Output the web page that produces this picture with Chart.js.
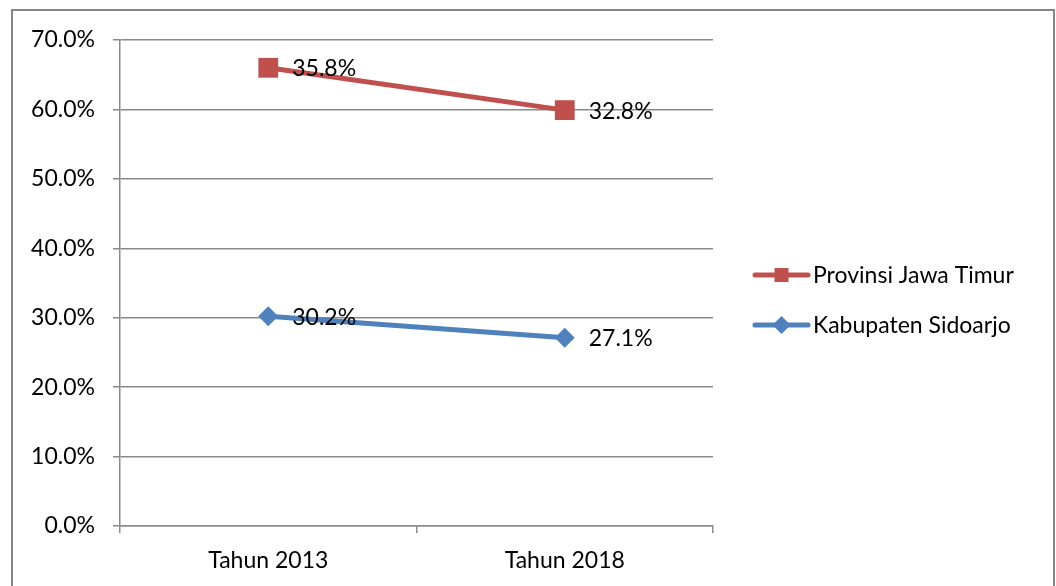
<!DOCTYPE html>
<html>
<head>
<meta charset="utf-8">
<script src="https://cdn.jsdelivr.net/npm/chart.js@4.4.1/dist/chart.umd.min.js"></script>
<style>
  html, body { margin: 0; padding: 0; background: #fff; }
  #wrap { position: relative; width: 1056px; height: 586px; overflow: hidden; }
  #frame { position: absolute; left: 11px; top: 9px; width: 1040px; height: 600px; border: 2px solid #878787; }
  canvas { position: absolute; left: 0; top: 0; }
</style>
</head>
<body>
<div id="wrap">
  <div id="frame"></div>
  <canvas id="trendChart" width="1056" height="586"></canvas>
</div>
<script>
// Data (stacked line: red series sits on top of the blue one)
const categories = ['Tahun 2013', 'Tahun 2018'];
const sidoarjoValues = [30.2, 27.1];
const jatimValues = [35.8, 32.8];
const yMin = 0;
const yMax = 70;
const yStep = 10;

const RED = '#C0504D';
const BLUE = '#4F81BD';
const GRID = '#8a8a8a';
const FONT = 'Lato, "Open Sans", sans-serif';
const FONT_SIZE = 23;

// Value labels to the right of each point
const valueLabels = {
  id: 'valueLabels',
  afterDatasetsDraw(chart) {
    const ctx = chart.ctx;
    ctx.save();
    ctx.font = FONT_SIZE + 'px ' + FONT;
    ctx.fillStyle = '#000';
    ctx.textAlign = 'left';
    ctx.textBaseline = 'middle';
    chart.data.datasets.forEach((ds, i) => {
      chart.getDatasetMeta(i).data.forEach((pt, j) => {
        ctx.fillText(ds.data[j].toFixed(1) + '%', pt.x + 24, pt.y + 1);
      });
    });
    ctx.restore();
  }
};

// Legend on the right: line sample with marker, like the office chart
const sideLegend = {
  id: 'sideLegend',
  afterDraw(chart) {
    const ctx = chart.ctx;
    const items = chart.data.datasets.slice().reverse();
    const x0 = 755, x1 = 808, yStart = 275, gap = 50;
    ctx.save();
    items.forEach((ds, k) => {
      const y = yStart + k * gap;
      const mx = (x0 + x1) / 2;
      ctx.strokeStyle = ds.borderColor;
      ctx.lineWidth = 5;
      ctx.lineCap = 'round';
      ctx.beginPath();
      ctx.moveTo(x0, y);
      ctx.lineTo(x1, y);
      ctx.stroke();
      ctx.fillStyle = ds.borderColor;
      if (ds.pointStyle === 'rect') {
        ctx.fillRect(mx - 7, y - 7, 14, 14);
      } else {
        ctx.beginPath();
        ctx.moveTo(mx, y - 9);
        ctx.lineTo(mx + 9, y);
        ctx.lineTo(mx, y + 9);
        ctx.lineTo(mx - 9, y);
        ctx.closePath();
        ctx.fill();
      }
      ctx.fillStyle = '#000';
      ctx.font = FONT_SIZE + 'px ' + FONT;
      ctx.textAlign = 'left';
      ctx.textBaseline = 'middle';
      ctx.fillText(ds.label, x1 + 5, y + 1);
    });
    ctx.restore();
  }
};

const ctx = document.getElementById('trendChart').getContext('2d');

new Chart(ctx, {
  type: 'line',
  data: {
    labels: categories,
    datasets: [{
      label: 'Kabupaten Sidoarjo',
      data: sidoarjoValues,
      borderColor: BLUE,
      backgroundColor: BLUE,
      borderWidth: 5,
      pointStyle: 'rectRot',
      pointRadius: 10,
      pointBorderWidth: 0,
      pointBackgroundColor: BLUE,
      fill: false,
      tension: 0
    }, {
      label: 'Provinsi Jawa Timur',
      data: jatimValues,
      borderColor: RED,
      backgroundColor: RED,
      borderWidth: 5,
      pointStyle: 'rect',
      pointRadius: 14,
      pointBorderWidth: 0,
      pointBackgroundColor: RED,
      fill: false,
      tension: 0
    }]
  },
  options: {
    responsive: false,
    animation: false,
    devicePixelRatio: 1,
    layout: {
      padding: { top: 40, right: 343, bottom: 0, left: 0 }
    },
    plugins: {
      legend: { display: false },
      tooltip: { enabled: false },
      title: { display: false }
    },
    scales: {
      x: {
        offset: true,
        grid: {
          display: true,
          offset: true,
          drawOnChartArea: false,
          drawTicks: true,
          tickLength: 7,
          color: GRID,
          lineWidth: 1.5
        },
        border: { display: true, color: GRID, width: 1.5 },
        ticks: {
          color: '#000',
          padding: 14,
          font: { family: FONT, size: FONT_SIZE }
        },
        afterFit(scale) { scale.height = 60; }
      },
      y: {
        stacked: true,
        min: yMin,
        max: yMax,
        grid: {
          color: GRID,
          lineWidth: 1.5,
          tickLength: 7
        },
        border: { display: true, color: GRID, width: 1.5 },
        ticks: {
          stepSize: yStep,
          color: '#000',
          padding: 18,
          font: { family: FONT, size: FONT_SIZE },
          callback: function(value) {
            return value.toFixed(1) + '%';
          }
        },
        afterFit(scale) { scale.width = 120; }
      }
    }
  },
  plugins: [valueLabels, sideLegend]
});
</script>
</body>
</html>
